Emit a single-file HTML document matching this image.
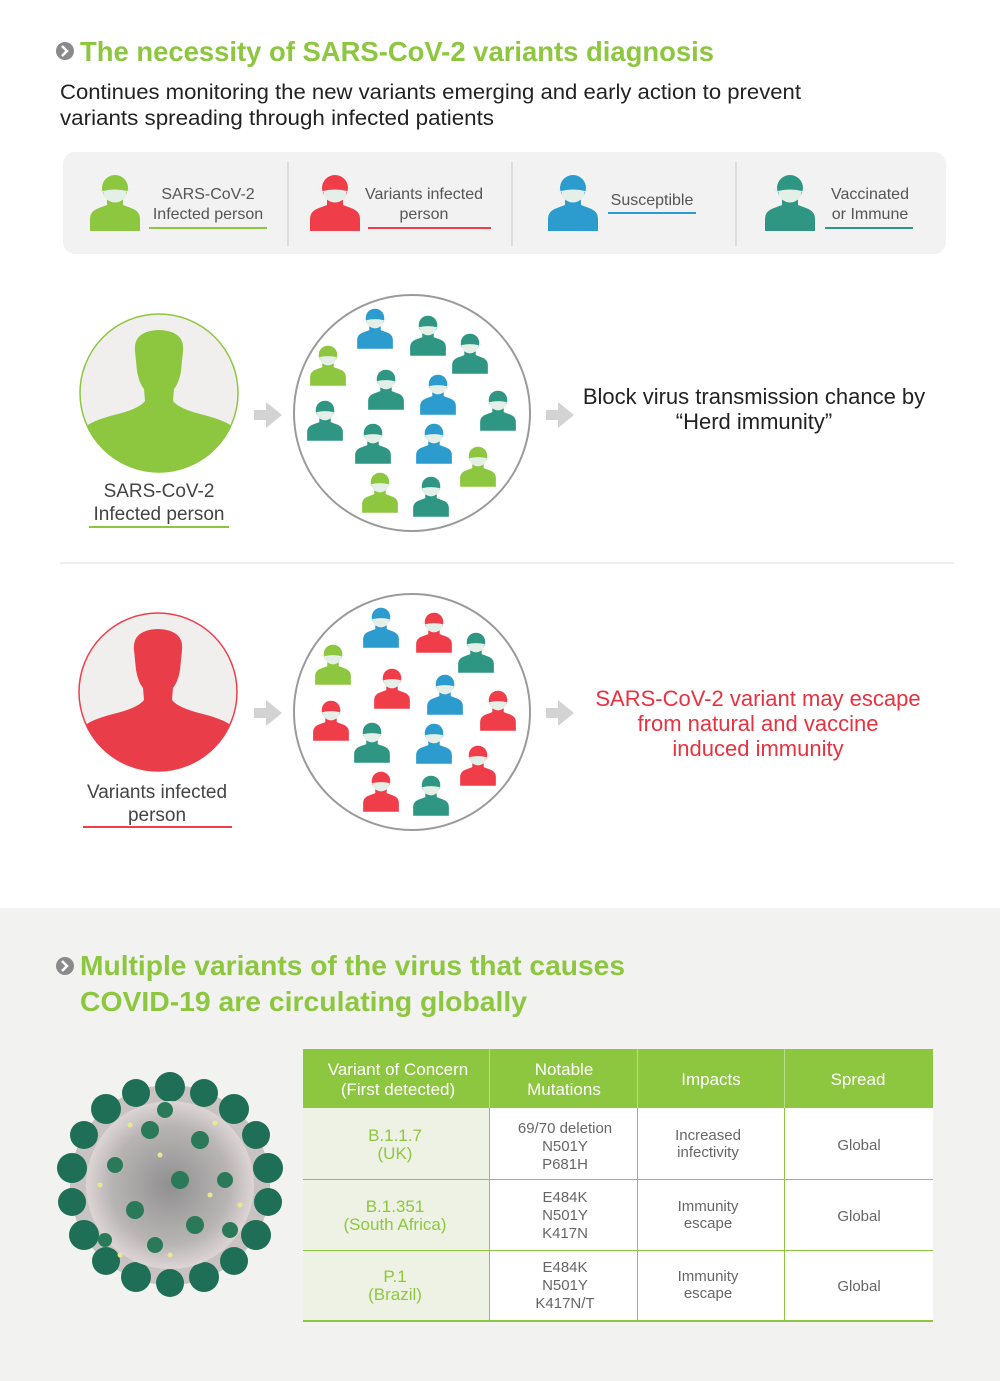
<!DOCTYPE html>
<html><head><meta charset="utf-8"><style>
html,body{margin:0;padding:0;background:#fff;}
svg{display:block;font-family:"Liberation Sans",sans-serif;}
</style></head><body>
<svg width="1000" height="1381" viewBox="0 0 1000 1381" xmlns="http://www.w3.org/2000/svg">
<defs>
<symbol id="p" viewBox="0 0 56 58">
<circle cx="28" cy="15" r="13"/>
<path d="M20 26 L36 26 L36 32 L44 35 Q53 38 53 46 L53 58 L3 58 L3 46 Q3 38 12 35 L20 32 Z"/>
<path d="M16 18 Q28 15 40 18 L38 25 Q28 34 18 25 Z" fill="#e4efe8"/>
<path d="M16 19 L12 16 M40 19 L44 16" stroke="#e4efe8" stroke-width="1.2"/>
</symbol>
<path id="sil" d="M-24,-42 Q-26,-62 0,-63 Q26,-62 24,-42 L22,-22 Q20,-10 15,-4 L14,8 Q20,16 45,22 Q68,28 75,35 L80,80 L-80,80 L-75,35 Q-68,28 -45,22 Q-20,16 -14,8 L-15,-4 Q-20,-10 -22,-22 Z"/>
<clipPath id="cc"><circle cx="0" cy="0" r="79"/></clipPath>
<radialGradient id="vg" cx="0.5" cy="0.5" r="0.5"><stop offset="0" stop-color="#909090"/><stop offset="0.7" stop-color="#b8b4b4"/><stop offset="1" stop-color="#ddd5d5"/></radialGradient>
<symbol id="arr" viewBox="0 0 30 30"><path d="M0 10 L12 10 L12 2 L28 15 L12 28 L12 20 L0 20 Z" fill="#d3d3d3"/></symbol>
</defs>

<circle cx="65" cy="51" r="9" fill="#8a8a8a"/>
<path d="M62 46 L67 51 L62 56" stroke="#fff" stroke-width="2.5" fill="none"/>
<text x="80" y="61" font-size="28" font-weight="bold" fill="#8dc63f" textLength="634" lengthAdjust="spacingAndGlyphs">The necessity of SARS-CoV-2 variants diagnosis</text>
<text x="60" y="99" font-size="21" fill="#222" textLength="741" lengthAdjust="spacingAndGlyphs">Continues monitoring the new variants emerging and early action to prevent</text>
<text x="60" y="125" font-size="21" fill="#222" textLength="434" lengthAdjust="spacingAndGlyphs">variants spreading through infected patients</text>

<rect x="63" y="152" width="883" height="102" rx="12" fill="#f2f2f2"/>
<line x1="288" y1="162" x2="288" y2="246" stroke="#c8c8c8"/>
<line x1="512" y1="162" x2="512" y2="246" stroke="#c8c8c8"/>
<line x1="736" y1="162" x2="736" y2="246" stroke="#c8c8c8"/>
<use href="#p" x="87" y="173" width="56" height="58" fill="#8dc63f"/>
<use href="#p" x="307" y="173" width="56" height="58" fill="#ef3e4a"/>
<use href="#p" x="545" y="173" width="56" height="58" fill="#2c9bcd"/>
<use href="#p" x="762" y="173" width="56" height="58" fill="#2e9683"/>
<g font-size="16" fill="#555" text-anchor="middle">
<text x="208" y="199">SARS-CoV-2</text><text x="208" y="219">Infected person</text>
<text x="424" y="199">Variants infected</text><text x="424" y="219">person</text>
<text x="652" y="205">Susceptible</text>
<text x="870" y="199">Vaccinated</text><text x="870" y="219">or Immune</text>
</g>
<rect x="149" y="227" width="118" height="2" fill="#8dc63f"/>
<rect x="368" y="227" width="123" height="2" fill="#ef3e4a"/>
<rect x="608" y="212" width="88" height="2" fill="#2c9bcd"/>
<rect x="825" y="227" width="88" height="2" fill="#2e9683"/>

<g transform="translate(159,393)">
<circle r="79" fill="#f0efee" stroke="#8dc63f" stroke-width="1.5"/>
<g clip-path="url(#cc)"><use href="#sil" fill="#8dc63f"/></g>
</g>
<text x="159" y="497" font-size="19" fill="#444" text-anchor="middle">SARS-CoV-2</text>
<text x="159" y="520" font-size="19" fill="#444" text-anchor="middle">Infected person</text>
<rect x="89" y="526" width="140" height="2" fill="#8dc63f"/>
<use href="#arr" x="254" y="400" width="30" height="30"/>
<circle cx="412" cy="413" r="118" fill="#fff" stroke="#9a9a9a" stroke-width="2"/>
<g>
<use href="#p" x="355" y="307" width="40" height="42" fill="#2c9bcd"/>
<use href="#p" x="408" y="314" width="40" height="42" fill="#2e9683"/>
<use href="#p" x="450" y="332" width="40" height="42" fill="#2e9683"/>
<use href="#p" x="308" y="344" width="40" height="42" fill="#8dc63f"/>
<use href="#p" x="366" y="368" width="40" height="42" fill="#2e9683"/>
<use href="#p" x="418" y="373" width="40" height="42" fill="#2c9bcd"/>
<use href="#p" x="478" y="389" width="40" height="42" fill="#2e9683"/>
<use href="#p" x="305" y="399" width="40" height="42" fill="#2e9683"/>
<use href="#p" x="353" y="422" width="40" height="42" fill="#2e9683"/>
<use href="#p" x="414" y="422" width="40" height="42" fill="#2c9bcd"/>
<use href="#p" x="458" y="445" width="40" height="42" fill="#8dc63f"/>
<use href="#p" x="360" y="471" width="40" height="42" fill="#8dc63f"/>
<use href="#p" x="411" y="475" width="40" height="42" fill="#2e9683"/>
</g>
<use href="#arr" x="546" y="400" width="30" height="30"/>
<text x="754" y="404" font-size="22" fill="#222" text-anchor="middle">Block virus transmission chance  by</text>
<text x="754" y="429" font-size="22" fill="#222" text-anchor="middle">“Herd immunity”</text>

<line x1="60" y1="563" x2="954" y2="563" stroke="#dedede"/>

<g transform="translate(158,692)">
<circle r="79" fill="#f0efee" stroke="#ef3e4a" stroke-width="1.5"/>
<g clip-path="url(#cc)"><use href="#sil" fill="#ea3d4a"/></g>
</g>
<text x="157" y="798" font-size="19" fill="#444" text-anchor="middle">Variants infected</text>
<text x="157" y="821" font-size="19" fill="#444" text-anchor="middle">person</text>
<rect x="83" y="826" width="149" height="2" fill="#ef3e4a"/>
<use href="#arr" x="254" y="698" width="30" height="30"/>
<circle cx="412" cy="712" r="118" fill="#fff" stroke="#9a9a9a" stroke-width="2"/>
<g>
<use href="#p" x="361" y="606" width="40" height="42" fill="#2c9bcd"/>
<use href="#p" x="414" y="611" width="40" height="42" fill="#ef3e4a"/>
<use href="#p" x="456" y="631" width="40" height="42" fill="#2e9683"/>
<use href="#p" x="313" y="643" width="40" height="42" fill="#8dc63f"/>
<use href="#p" x="372" y="667" width="40" height="42" fill="#ef3e4a"/>
<use href="#p" x="425" y="673" width="40" height="42" fill="#2c9bcd"/>
<use href="#p" x="478" y="689" width="40" height="42" fill="#ef3e4a"/>
<use href="#p" x="311" y="699" width="40" height="42" fill="#ef3e4a"/>
<use href="#p" x="352" y="721" width="40" height="42" fill="#2e9683"/>
<use href="#p" x="414" y="722" width="40" height="42" fill="#2c9bcd"/>
<use href="#p" x="458" y="744" width="40" height="42" fill="#ef3e4a"/>
<use href="#p" x="361" y="770" width="40" height="42" fill="#ef3e4a"/>
<use href="#p" x="411" y="774" width="40" height="42" fill="#2e9683"/>
</g>
<use href="#arr" x="546" y="698" width="30" height="30"/>
<g font-size="22" fill="#e8323f" text-anchor="middle">
<text x="758" y="706">SARS-CoV-2 variant may escape</text>
<text x="758" y="731">from natural and vaccine</text>
<text x="758" y="756">induced immunity</text>
</g>

<rect x="0" y="908" width="1000" height="473" fill="#f2f2f0"/>
<circle cx="65" cy="966" r="9" fill="#8a8a8a"/>
<path d="M62 961 L67 966 L62 971" stroke="#fff" stroke-width="2.5" fill="none"/>
<text x="80" y="975" font-size="28" font-weight="bold" fill="#8dc63f" textLength="545" lengthAdjust="spacingAndGlyphs">Multiple variants of the virus that causes</text>
<text x="80" y="1011" font-size="28" font-weight="bold" fill="#8dc63f" textLength="447" lengthAdjust="spacingAndGlyphs">COVID-19 are circulating globally</text>

<g transform="translate(170,1185)">
<circle r="100" fill="#c9c2c2"/>
<g fill="#1f6e56">
<circle cx="0" cy="-98" r="15"/><circle cx="34" cy="-92" r="14"/><circle cx="64" cy="-76" r="15"/><circle cx="86" cy="-50" r="14"/>
<circle cx="98" cy="-17" r="15"/><circle cx="98" cy="17" r="14"/><circle cx="86" cy="50" r="15"/><circle cx="64" cy="76" r="14"/>
<circle cx="34" cy="92" r="15"/><circle cx="0" cy="98" r="14"/><circle cx="-34" cy="92" r="15"/><circle cx="-64" cy="76" r="14"/>
<circle cx="-86" cy="50" r="15"/><circle cx="-98" cy="17" r="14"/><circle cx="-98" cy="-17" r="15"/><circle cx="-86" cy="-50" r="14"/>
<circle cx="-64" cy="-76" r="15"/><circle cx="-34" cy="-92" r="14"/>
</g>
<circle r="84" fill="url(#vg)"/>
<g fill="#2a7a5a">
<circle cx="-20" cy="-55" r="9"/><circle cx="30" cy="-45" r="9"/><circle cx="-55" cy="-20" r="8"/><circle cx="10" cy="-5" r="9"/>
<circle cx="55" cy="-5" r="8"/><circle cx="-35" cy="25" r="9"/><circle cx="25" cy="40" r="9"/><circle cx="-15" cy="60" r="8"/>
<circle cx="60" cy="45" r="8"/><circle cx="-65" cy="55" r="7"/><circle cx="-5" cy="-75" r="8"/>
</g>
<g fill="#e8e890">
<circle cx="-40" cy="-60" r="2.5"/><circle cx="45" cy="-62" r="2.5"/><circle cx="-70" cy="0" r="2.5"/><circle cx="70" cy="20" r="2.5"/>
<circle cx="0" cy="70" r="2.5"/><circle cx="-50" cy="70" r="2.5"/><circle cx="40" cy="10" r="2.5"/><circle cx="-10" cy="-30" r="2.5"/>
</g>
</g>

<rect x="303" y="1049" width="630" height="59" fill="#8dc63f"/>
<rect x="303" y="1108" width="186" height="213" fill="#eef2e4"/>
<rect x="489" y="1108" width="444" height="213" fill="#fff"/>
<g stroke="#8dc63f" stroke-width="1">
<line x1="303" y1="1179.5" x2="933" y2="1179.5"/>
<line x1="303" y1="1250.5" x2="933" y2="1250.5"/>
<line x1="303" y1="1321" x2="933" y2="1321" stroke-width="2"/>
<line x1="489.5" y1="1108" x2="489.5" y2="1321"/>
<line x1="637.5" y1="1108" x2="637.5" y2="1321"/>
<line x1="784.5" y1="1108" x2="784.5" y2="1321"/>
</g>
<g stroke="#b8dc8a" stroke-width="1">
<line x1="489.5" y1="1049" x2="489.5" y2="1108"/>
<line x1="637.5" y1="1049" x2="637.5" y2="1108"/>
<line x1="784.5" y1="1049" x2="784.5" y2="1108"/>
</g>
<g font-size="17" fill="#fff" text-anchor="middle">
<text x="398" y="1075">Variant of Concern</text><text x="398" y="1095">(First detected)</text>
<text x="564" y="1075">Notable</text><text x="564" y="1095">Mutations</text>
<text x="711" y="1085">Impacts</text>
<text x="858" y="1085">Spread</text>
</g>
<g font-size="17" fill="#8dc63f" text-anchor="middle">
<text x="395" y="1141">B.1.1.7</text><text x="395" y="1159">(UK)</text>
<text x="395" y="1212">B.1.351</text><text x="395" y="1230">(South Africa)</text>
<text x="395" y="1282">P.1</text><text x="395" y="1300">(Brazil)</text>
</g>
<g font-size="15" fill="#666" text-anchor="middle">
<text x="565" y="1133">69/70 deletion</text><text x="565" y="1151">N501Y</text><text x="565" y="1169">P681H</text>
<text x="565" y="1202">E484K</text><text x="565" y="1220">N501Y</text><text x="565" y="1238">K417N</text>
<text x="565" y="1272">E484K</text><text x="565" y="1290">N501Y</text><text x="565" y="1308">K417N/T</text>
<text x="708" y="1140">Increased</text><text x="708" y="1157">infectivity</text>
<text x="708" y="1211">Immunity</text><text x="708" y="1228">escape</text>
<text x="708" y="1281">Immunity</text><text x="708" y="1298">escape</text>
<text x="859" y="1150">Global</text>
<text x="859" y="1221">Global</text>
<text x="859" y="1291">Global</text>
</g>
</svg>
</body></html>
